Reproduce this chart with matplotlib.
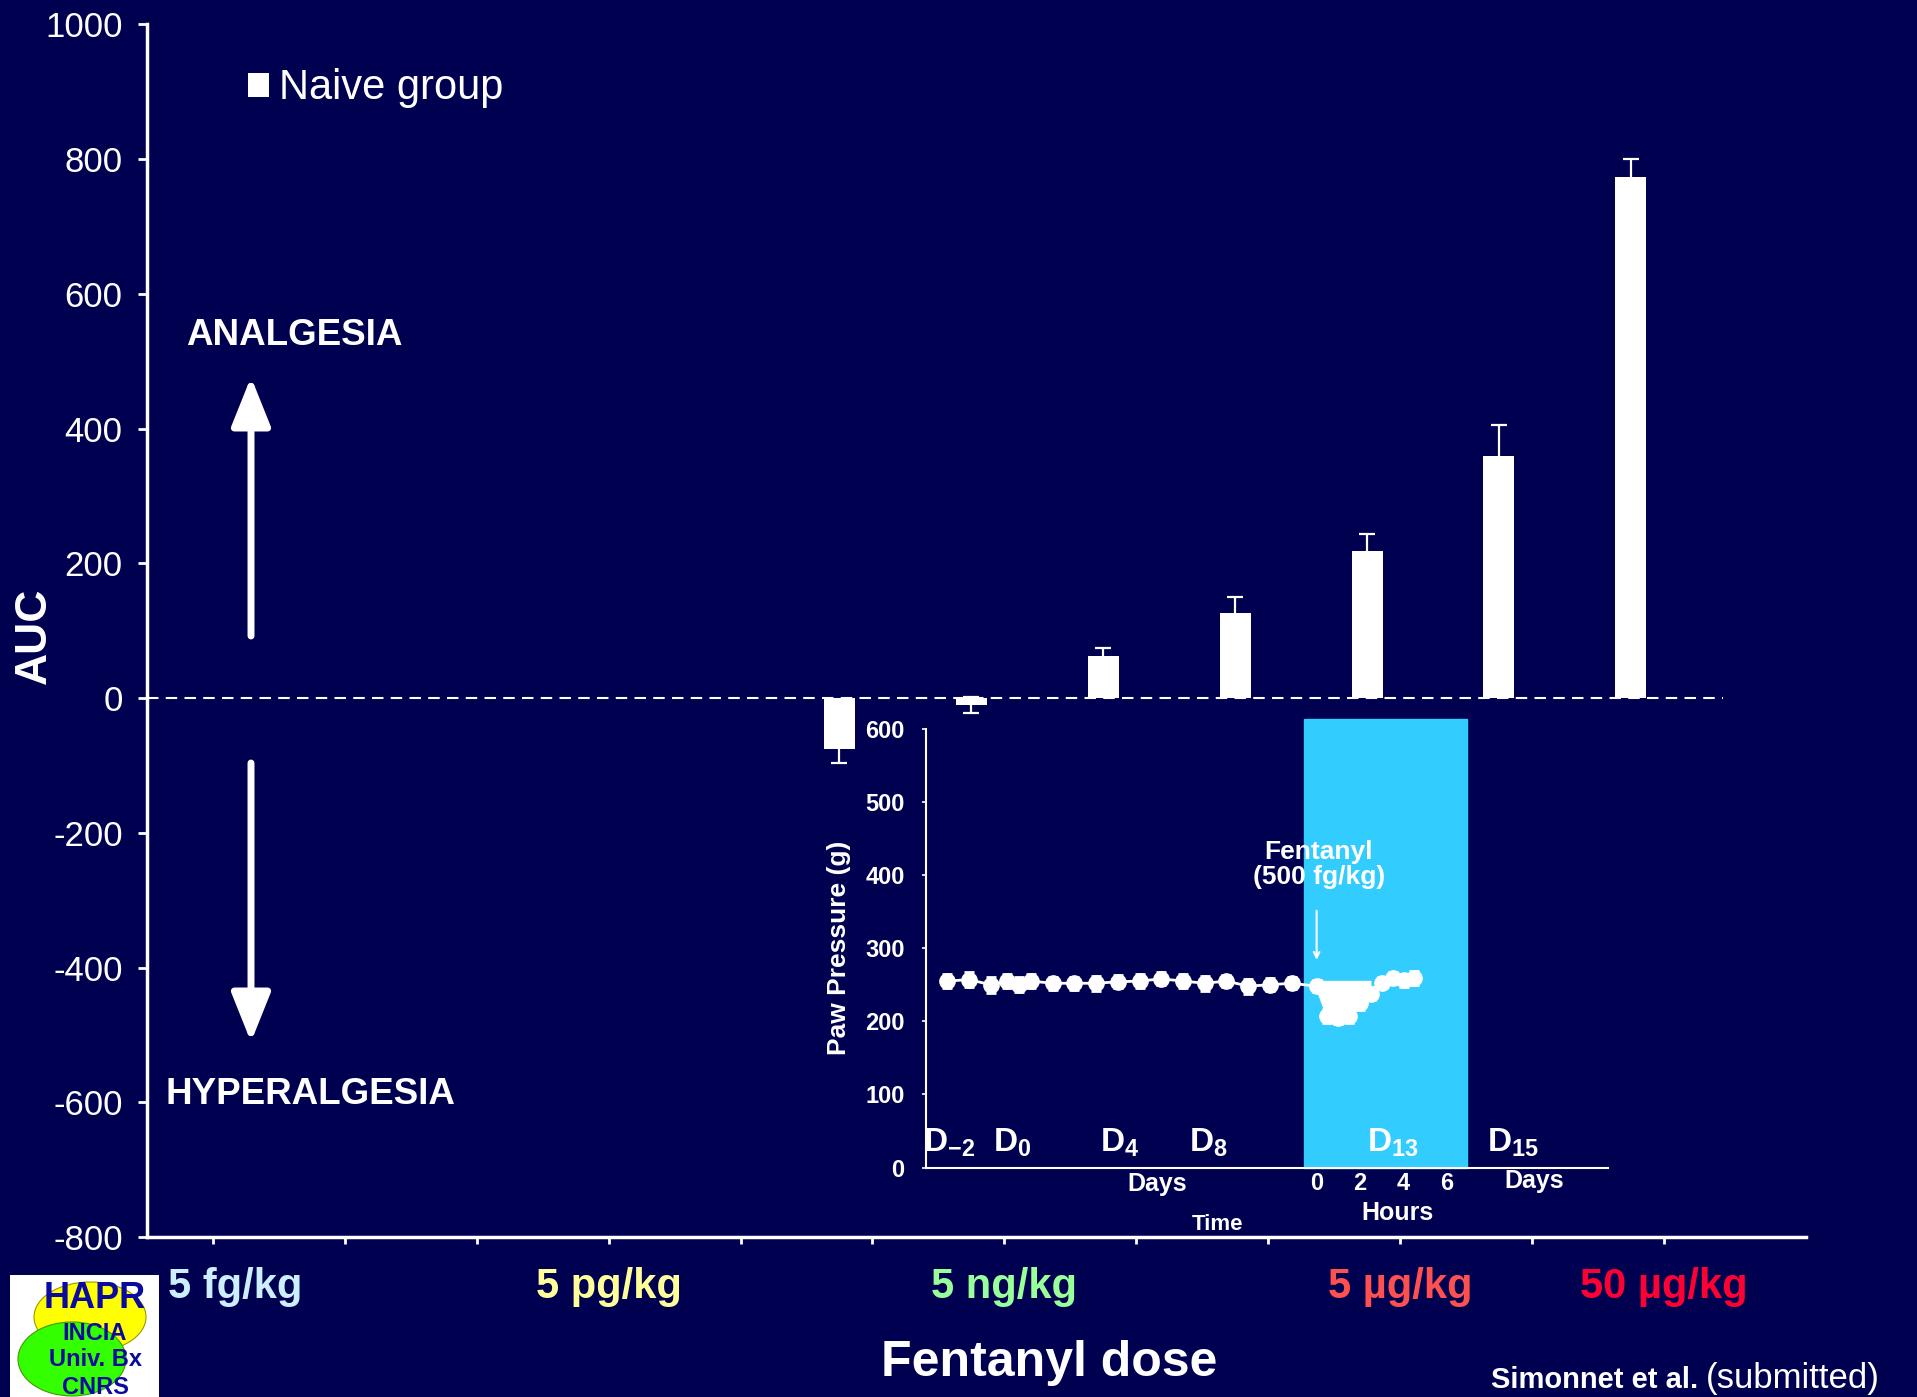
import matplotlib
matplotlib.use('Agg')
import matplotlib.pyplot as plt
import numpy as np
from matplotlib import font_manager
from matplotlib.patches import Ellipse

# AUC of the naive group for each fentanyl dose (mean, SEM)
auc = [-75, -10, 62, 127, 218, 360, 773]
auc_sem = [22, 12, 13, 23, 25, 45, 27]

dose_labels = ['5 fg/kg', '5 pg/kg', '5 ng/kg', '5 µg/kg', '50 µg/kg']
dose_colors = ['#cceeff', '#ffff99', '#99ff99', '#ff5050', '#ff0033']
dose_slot = [0.17, 3, 6, 9, 11]

# inset: paw pressure time course, days then hours after injection on D13
day_t = [1, 2, 3, 3.75, 4.3, 4.85, 5.85, 6.85, 7.85, 8.85, 9.85, 10.85,
         11.85, 12.85, 13.85, 14.85, 15.85, 16.85]
day_pp = [255, 257, 250, 255, 250, 255, 252, 252, 252, 254, 255, 258,
          255, 252, 255, 248, 250, 252]
day_err = [9, 10, 11, 9, 10, 9, 9, 9, 10, 9, 9, 9, 10, 10, 8, 10, 9, 8]
hour_t = [0, 0.5, 1, 1.5, 2, 2.5, 3, 3.5, 4, 4.5]
hour_pp = [248, 207, 205, 207, 225, 238, 253, 259, 256, 259]
hour_err = [8, 10, 9, 9, 9, 9, 8, 8, 9, 10]
pre_pp = 256

day_names = ['-2', '0', '4', '8', '13', '15']
day_name_t = [1.07, 3.98, 8.94, 13.04, 21.5, 27.04]

bg = '#000050'
names = {f.name for f in font_manager.fontManager.ttflist}
narrow = 'Liberation Sans Narrow' if 'Liberation Sans Narrow' in names else 'Liberation Sans'
plt.rcParams['font.family'] = 'Liberation Sans'
plt.rcParams['axes.unicode_minus'] = False
plt.rcParams['mathtext.fontset'] = 'custom'
plt.rcParams['mathtext.rm'] = narrow
plt.rcParams['mathtext.bf'] = narrow + ':bold'

fig = plt.figure(figsize=(19.17, 13.97), dpi=100, facecolor=bg)
ax = fig.add_axes([0.0767, 0.1145, 0.8655, 0.868], facecolor=bg)

xb = np.arange(len(auc)) + 4.75
ax.errorbar(xb, auc, yerr=auc_sem, fmt='none', ecolor='white', elinewidth=1.6,
            capsize=5.5, capthick=1.6, zorder=2)
ax.bar(xb, auc, width=0.235, color='white', zorder=3, label='Naive group')
ax.plot([-0.5, 11.45], [0, 0], color='white', lw=1.5, ls=(0, (5.5, 3.5)), zorder=1)

ax.set_xlim(-0.5, 12.08)
ax.set_ylim(-800, 1000)
ax.set_xticks(range(12))
ax.set_xticklabels([])
ax.set_yticks(range(-800, 1001, 200))
ax.tick_params(axis='y', colors='white', labelsize=25, length=6.5, width=2, pad=11)
ax.tick_params(axis='x', colors='white', length=5, width=2)
for s in ['top', 'right']:
    ax.spines[s].set_visible(False)
for s in ['left', 'bottom']:
    ax.spines[s].set_color('white')
    ax.spines[s].set_linewidth(2.5)

for lab, col, k in zip(dose_labels, dose_colors, dose_slot):
    ax.text(k, -0.0412, lab, transform=ax.get_xaxis_transform(), color=col,
            fontsize=30, fontweight='bold', ha='center', va='center')

ax.legend(loc='upper left', bbox_to_anchor=(0.1294, 0.951), bbox_transform=fig.transFigure,
          frameon=False, fontsize=30, labelcolor='white', handlelength=0.5,
          handleheight=0.5, handletextpad=0.25, borderpad=0, borderaxespad=0)

fig.text(0.0177, 0.5447, 'AUC', rotation=90, color='white', fontsize=32,
         fontweight='bold', ha='center', va='center')
fig.text(0.5472, 0.0243, 'Fentanyl dose', color='white', fontsize=36,
         fontweight='bold', ha='center', va='center')
fig.text(0.097, 0.7595, 'ANALGESIA', color='white', fontsize=26.5,
         fontweight='bold', ha='left', va='center')
fig.text(0.0861, 0.2162, 'HYPERALGESIA', color='white', fontsize=26.5,
         fontweight='bold', ha='left', va='center')

arrow = dict(arrowstyle='-|>,head_length=0.75,head_width=0.3', color='white',
             lw=5, mutation_scale=40, shrinkA=0, shrinkB=0)
ax.annotate('', xy=(251 / 1917, 1 - 377 / 1397), xytext=(251 / 1917, 1 - 636 / 1397),
            xycoords='figure fraction', textcoords='figure fraction', arrowprops=arrow)
ax.annotate('', xy=(251 / 1917, 1 - 1042 / 1397), xytext=(251 / 1917, 1 - 763 / 1397),
            xycoords='figure fraction', textcoords='figure fraction', arrowprops=arrow)

# inset
ins = fig.add_axes([0.4828, 0.1642, 0.3559, 0.3142], facecolor='none')
ins.set_xlim(0, 31.4)
ins.set_ylim(0, 600)
ins.axvspan(17.43, 24.9, ymin=0, ymax=1.022, color='#33ccff', clip_on=False, zorder=0)

ht = 18 + np.array(hour_t)
tt = np.concatenate([day_t, ht])
pp = np.concatenate([day_pp, hour_pp])
ee = np.concatenate([day_err, hour_err])
drop = np.array(hour_t) <= 2.5
ins.fill_between(np.concatenate([[17.77], ht[drop]]), np.concatenate([[pre_pp], np.array(hour_pp)[drop]]),
                 pre_pp, color='white', lw=0, zorder=2)
ins.errorbar(tt, pp, yerr=ee, fmt='-o', color='white', ms=11, lw=2, elinewidth=2,
             capsize=3.5, capthick=2, zorder=3)

ins.set_xticks([])
ins.set_yticks(range(0, 601, 100))
for t in ins.get_yticklabels():
    t.set_fontfamily(narrow)
    t.set_fontweight('bold')
ins.tick_params(axis='y', colors='white', labelsize=17, length=3, width=1.2, pad=12)
for s in ['top', 'right']:
    ins.spines[s].set_visible(False)
for s in ['left', 'bottom']:
    ins.spines[s].set_color('white')
    ins.spines[s].set_linewidth(1.5)
ins.set_ylabel('Paw Pressure (g)', color='white', fontsize=19, fontweight='bold', labelpad=10)

for nm, t in zip(day_names, day_name_t):
    ins.text(t, 34, r'$\mathbf{D_{%s}}$' % nm, color='white', fontsize=24,
             ha='center', va='center')
for h in [0, 2, 4, 6]:
    ins.text(18 + h, -22, str(h), color='white', fontsize=17, fontweight='bold',
             family=narrow, ha='center', va='center', clip_on=False)
small = dict(color='white', fontweight='bold', family=narrow, ha='center', va='center', clip_on=False)
ins.text(10.65, -22, 'Days', fontsize=18, **small)
ins.text(28, -18, 'Days', fontsize=18, **small)
ins.text(21.7, -62, 'Hours', fontsize=18, **small)
ins.text(13.45, -78, 'Time', fontsize=16, **small)
ins.text(18.1, 414, 'Fentanyl\n(500 fg/kg)', color='white', fontsize=19,
         fontweight='bold', family=narrow, ha='center', va='center', linespacing=1.05)
ins.annotate('', xy=(18, 284), xytext=(18, 351),
             arrowprops=dict(arrowstyle='->', color='white', lw=1.5, shrinkA=0, shrinkB=0))

# lab logo
logo = fig.add_axes([10 / 1917, 0, 149 / 1917, 122 / 1397], facecolor='white')
logo.set_xlim(0, 149)
logo.set_ylim(122, 0)
logo.set_xticks([])
logo.set_yticks([])
for s in logo.spines.values():
    s.set_visible(False)
logo.add_patch(Ellipse((80, 42), 112, 70, facecolor='#ffff00', edgecolor='#999900', lw=0.8))
logo.add_patch(Ellipse((62, 84), 108, 74, facecolor='#33ff00', edgecolor='#449900', lw=0.8))
logo_txt = dict(color='#0a0aa0', fontweight='bold', family=narrow, ha='center', va='center')
logo.text(85, 23, 'HAPR', fontsize=26, **logo_txt)
logo.text(85, 58, 'INCIA', fontsize=17, **logo_txt)
logo.text(85, 85, 'Univ. Bx', fontsize=17, **logo_txt)
logo.text(85, 113, 'CNRS', fontsize=17, **logo_txt)

t1 = fig.text(0.7778, 0.0065, 'Simonnet et al.', color='white', fontsize=21,
              fontweight='bold', ha='left', va='baseline')
bb = t1.get_window_extent(renderer=fig.canvas.get_renderer())
fig.text(bb.x1 / fig.bbox.width + 0.004, 0.0065, '(submitted)', color='white',
         fontsize=25, ha='left', va='baseline')

fig.savefig('out.png', dpi=100, facecolor=bg)
